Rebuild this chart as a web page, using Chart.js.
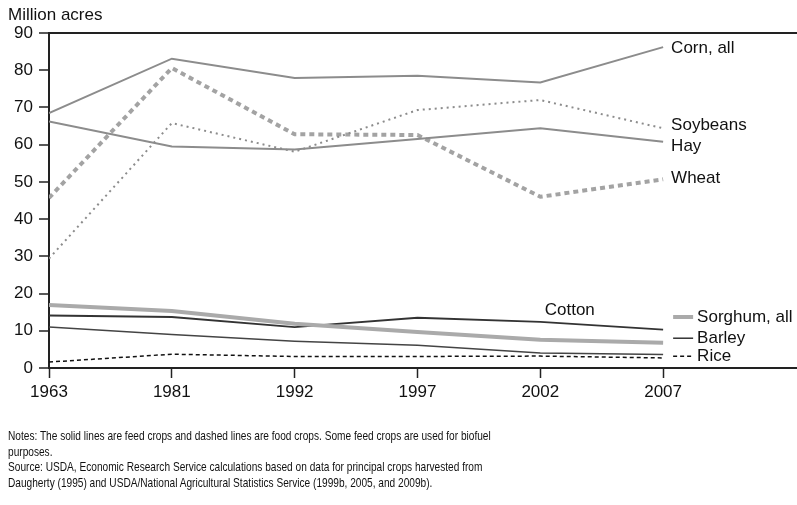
<!DOCTYPE html>
<html>
<head>
<meta charset="utf-8">
<script src="https://cdn.jsdelivr.net/npm/chart.js@4"></script>
<style>
  html, body { margin: 0; padding: 0; background: #fff; }
  #wrap { position: relative; width: 797px; height: 505px; }
  #notes {
    position: absolute; left: 8px; top: 428px; width: 1000px;
    font-family: 'Liberation Sans', Arial, sans-serif;
    font-size: 13.5px; line-height: 15.5px; color: #111;
    transform: scaleX(0.75); transform-origin: 0 0;
    white-space: nowrap;
  }
</style>
</head>
<body>
<div id="wrap">
  <canvas id="chart" width="797" height="505"></canvas>
  <div id="notes">Notes: The solid lines are feed crops and dashed lines are food crops. Some feed crops are used for biofuel<br>purposes.<br>Source: USDA, Economic Research Service calculations based on data for principal crops harvested from<br>Daugherty (1995) and USDA/National Agricultural Statistics Service (1999b, 2005, and 2009b).</div>
</div>
<script>
// --------------------------------------------------
// DATOS (millones de acres)
// --------------------------------------------------
const years = ["1963", "1981", "1992", "1997", "2002", "2007"];

const corn     = [68.5, 83.1, 77.9, 78.5, 76.7, 86.2];
const soybeans = [29.4, 65.8, 58.1, 69.3, 72.0, 64.4];
const hay      = [66.2, 59.5, 58.7, 61.5, 64.4, 60.8];
const wheat    = [45.7, 80.6, 62.8, 62.6, 46.0, 50.7];
const sorghum  = [16.9, 15.3, 11.9, 9.7, 7.6, 6.8];
const cotton   = [14.1, 13.7, 11.0, 13.5, 12.4, 10.3];
const barley   = [11.0, 9.0, 7.2, 6.1, 4.0, 3.6];
const rice     = [1.6, 3.7, 3.1, 3.1, 3.2, 2.7];

const yTicks = [0, 10, 20, 30, 40, 50, 60, 70, 80, 90];

// etiquetas junto a las lineas (valor y en el eje)
const endLabels = [
    { text: "Corn, all", y: 85.8 },
    { text: "Soybeans", y: 65.1 },
    { text: "Hay", y: 59.5 },
    { text: "Wheat", y: 51.0 }
];

const keyLabels = [
    { text: "Sorghum, all", y: 13.7, color: "#aaaaaa", width: 4, dash: [] },
    { text: "Barley", y: 8.0, color: "#333333", width: 1.5, dash: [] },
    { text: "Rice", y: 3.15, color: "#111111", width: 1.5, dash: [4, 3] }
];

const toPoints = arr => arr.map((v, i) => ({ x: i, y: v }));

function series(label, values, color, width, dash) {
    return {
        label: label,
        data: toPoints(values),
        borderColor: color,
        borderWidth: width,
        borderDash: dash,
        pointRadius: 0,
        tension: 0,
        fill: false
    };
}

// --------------------------------------------------
// PLUGIN PARA TEXTOS DENTRO DEL GRAFICO
// --------------------------------------------------
const labelPlugin = {
    id: "labelPlugin",
    afterDraw(chart) {
        const ctx = chart.ctx;
        const xs = chart.scales.x;
        const ys = chart.scales.y;
        ctx.save();
        ctx.font = "17px 'Liberation Sans', Arial, sans-serif";
        ctx.fillStyle = "#111";
        ctx.textBaseline = "middle";
        ctx.textAlign = "left";

        // titulo del eje
        ctx.fillText("Million acres", 8, 15);

        const xEnd = xs.getPixelForValue(years.length - 1);
        endLabels.forEach(l => {
            ctx.fillText(l.text, xEnd + 8, ys.getPixelForValue(l.y));
        });

        // Cotton
        ctx.textAlign = "center";
        ctx.fillText("Cotton", xs.getPixelForValue(4.24), ys.getPixelForValue(15.5));

        // mini leyenda
        ctx.textAlign = "left";
        keyLabels.forEach(k => {
            const py = ys.getPixelForValue(k.y);
            ctx.beginPath();
            ctx.strokeStyle = k.color;
            ctx.lineWidth = k.width;
            ctx.setLineDash(k.dash);
            ctx.moveTo(xEnd + 10, py);
            ctx.lineTo(xEnd + 30, py);
            ctx.stroke();
            ctx.setLineDash([]);
            ctx.fillText(k.text, xEnd + 34, py);
        });
        ctx.restore();
    }
};

Chart.defaults.font.family = "'Liberation Sans', Arial, sans-serif";
Chart.defaults.color = "#111";

new Chart(document.getElementById("chart"), {
    type: "line",
    data: {
        datasets: [
            series("Corn, all", corn, "#8c8c8c", 2, []),
            series("Hay", hay, "#8c8c8c", 2, []),
            series("Soybeans", soybeans, "#8c8c8c", 2, [2, 4]),
            series("Wheat", wheat, "#a3a3a3", 4, [5, 4]),
            series("Sorghum, all", sorghum, "#aaaaaa", 4, []),
            series("Cotton", cotton, "#333333", 1.8, []),
            series("Barley", barley, "#444444", 1.5, []),
            series("Rice", rice, "#111111", 1.5, [4, 3])
        ]
    },
    options: {
        responsive: false,
        animation: false,
        layout: { padding: { top: 33, right: 0, left: 0, bottom: 0 } },
        plugins: {
            legend: { display: false },
            tooltip: { enabled: false }
        },
        scales: {
            x: {
                type: "linear",
                min: 0,
                max: 6.09,
                afterBuildTicks(scale) {
                    scale.ticks = years.map((_, i) => ({ value: i }));
                },
                afterFit(scale) { scale.height = 137; },
                ticks: {
                    font: { size: 17 },
                    padding: 4,
                    maxRotation: 0,
                    callback: v => years[v]
                },
                grid: {
                    color: "transparent",
                    tickColor: "#222",
                    tickLength: 10,
                    tickWidth: 1.5
                },
                border: { display: true, color: "#222", width: 2 }
            },
            y: {
                min: 0,
                max: 90,
                afterBuildTicks(scale) {
                    scale.ticks = yTicks.map(v => ({ value: v }));
                },
                afterFit(scale) { scale.width = 49; },
                ticks: { font: { size: 17 }, padding: 6 },
                grid: {
                    color: c => (c.tick && c.tick.value === 90 ? "#222" : "transparent"),
                    lineWidth: 2,
                    tickColor: "#222",
                    tickLength: 10,
                    tickWidth: 1.5
                },
                border: { display: true, color: "#222", width: 2 }
            }
        }
    },
    plugins: [labelPlugin]
});
</script>
</body>
</html>
